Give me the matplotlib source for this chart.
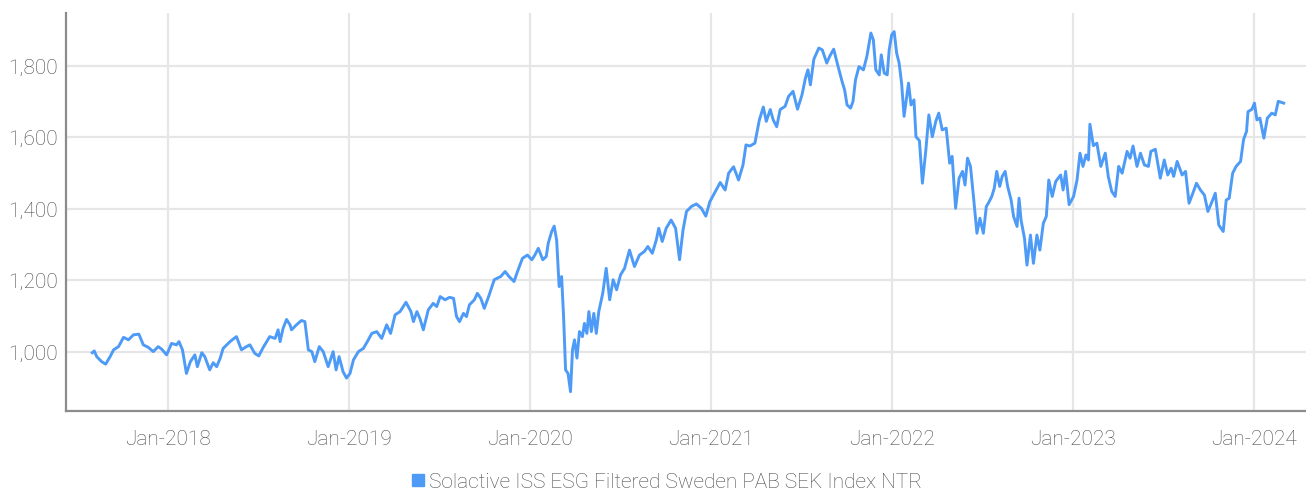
import pandas as pd
import numpy as np
import matplotlib
matplotlib.use("Agg")
import matplotlib.pyplot as plt
import matplotlib.dates as mdates
from matplotlib.ticker import FuncFormatter
from matplotlib.lines import Line2D

plt.rcParams['font.family'] = ['Roboto', 'DejaVu Sans']
plt.rcParams['font.weight'] = 'light'

series_name = "Solactive ISS ESG Filtered Sweden PAB SEK Index NTR"

dates = [
    "2017-08-01", "2017-08-05", "2017-08-10", "2017-08-20", "2017-08-28", "2017-09-06",
    "2017-09-13", "2017-09-23", "2017-10-03", "2017-10-13", "2017-10-23", "2017-11-03",
    "2017-11-12", "2017-11-22", "2017-12-02", "2017-12-12", "2017-12-19", "2017-12-29",
    "2018-01-08", "2018-01-18", "2018-01-23", "2018-01-30", "2018-02-07", "2018-02-15",
    "2018-02-24", "2018-03-01", "2018-03-10", "2018-03-16", "2018-03-26", "2018-04-02",
    "2018-04-09", "2018-04-16", "2018-04-22", "2018-05-06", "2018-05-14", "2018-05-19",
    "2018-05-29", "2018-06-08", "2018-06-15", "2018-06-25", "2018-07-03", "2018-07-12",
    "2018-07-25", "2018-08-05", "2018-08-11", "2018-08-15", "2018-08-21", "2018-08-28",
    "2018-09-04", "2018-09-07", "2018-09-17", "2018-09-27", "2018-10-04", "2018-10-11",
    "2018-10-18", "2018-10-24", "2018-11-02", "2018-11-10", "2018-11-20", "2018-11-30",
    "2018-12-06", "2018-12-12", "2018-12-20", "2018-12-27",
    "2019-01-03", "2019-01-10", "2019-01-20", "2019-01-30", "2019-02-07", "2019-02-16",
    "2019-02-26", "2019-03-08", "2019-03-18", "2019-03-26", "2019-04-04", "2019-04-14",
    "2019-04-26", "2019-05-06", "2019-05-11", "2019-05-18", "2019-05-24", "2019-05-31",
    "2019-06-10", "2019-06-20", "2019-06-27", "2019-07-04", "2019-07-14", "2019-07-23",
    "2019-07-31", "2019-08-06", "2019-08-12", "2019-08-20", "2019-08-26", "2019-09-01",
    "2019-09-11", "2019-09-17", "2019-09-24", "2019-10-01", "2019-10-11", "2019-10-21",
    "2019-10-27", "2019-11-03", "2019-11-12", "2019-11-20", "2019-11-30", "2019-12-07",
    "2019-12-17", "2019-12-27",
    "2020-01-05", "2020-01-11", "2020-01-18", "2020-01-27", "2020-02-03", "2020-02-07",
    "2020-02-14", "2020-02-19", "2020-02-24", "2020-02-29", "2020-03-05", "2020-03-09",
    "2020-03-13", "2020-03-18", "2020-03-23", "2020-03-27", "2020-03-31", "2020-04-05",
    "2020-04-10", "2020-04-16", "2020-04-20", "2020-04-25", "2020-04-29", "2020-05-04",
    "2020-05-09", "2020-05-14", "2020-05-19", "2020-05-27", "2020-06-03", "2020-06-10",
    "2020-06-17", "2020-06-24", "2020-07-02", "2020-07-10", "2020-07-20", "2020-07-30",
    "2020-08-09", "2020-08-19", "2020-08-26", "2020-09-04", "2020-09-12", "2020-09-17",
    "2020-09-24", "2020-10-02", "2020-10-12", "2020-10-21", "2020-10-29", "2020-11-05",
    "2020-11-12", "2020-11-22", "2020-12-02", "2020-12-12", "2020-12-21", "2020-12-29",
    "2021-01-09", "2021-01-19", "2021-01-29", "2021-02-05", "2021-02-15", "2021-02-25",
    "2021-03-06", "2021-03-12", "2021-03-20", "2021-03-30", "2021-04-08", "2021-04-16",
    "2021-04-22", "2021-04-30", "2021-05-06", "2021-05-13", "2021-05-20", "2021-05-30",
    "2021-06-06", "2021-06-15", "2021-06-24", "2021-07-03", "2021-07-10", "2021-07-15",
    "2021-07-20", "2021-07-27", "2021-08-06", "2021-08-13", "2021-08-22", "2021-08-28",
    "2021-09-05", "2021-09-13", "2021-09-22", "2021-09-27", "2021-10-02", "2021-10-09",
    "2021-10-14", "2021-10-19", "2021-10-26", "2021-11-04", "2021-11-11", "2021-11-19",
    "2021-11-24", "2021-11-29", "2021-12-06", "2021-12-10", "2021-12-16", "2021-12-22",
    "2021-12-26", "2021-12-31",
    "2022-01-05", "2022-01-10", "2022-01-15", "2022-01-20", "2022-01-25", "2022-02-03",
    "2022-02-08", "2022-02-14", "2022-02-18", "2022-02-25", "2022-03-03", "2022-03-10",
    "2022-03-16", "2022-03-23", "2022-03-30", "2022-04-05", "2022-04-12", "2022-04-20",
    "2022-04-27", "2022-05-02", "2022-05-09", "2022-05-16", "2022-05-23", "2022-05-28",
    "2022-06-02", "2022-06-08", "2022-06-14", "2022-06-21", "2022-06-27", "2022-07-04",
    "2022-07-10", "2022-07-14", "2022-07-21", "2022-07-26", "2022-07-31", "2022-08-06",
    "2022-08-11", "2022-08-17", "2022-08-22", "2022-08-29", "2022-09-03", "2022-09-10",
    "2022-09-14", "2022-09-18", "2022-09-25", "2022-09-30", "2022-10-07", "2022-10-13",
    "2022-10-20", "2022-10-26", "2022-11-02", "2022-11-08", "2022-11-13", "2022-11-20",
    "2022-11-27", "2022-12-07", "2022-12-12", "2022-12-17", "2022-12-24",
    "2023-01-02", "2023-01-09", "2023-01-15", "2023-01-21", "2023-01-27", "2023-02-01",
    "2023-02-04", "2023-02-11", "2023-02-18", "2023-02-26", "2023-03-07", "2023-03-13",
    "2023-03-20", "2023-03-27", "2023-04-03", "2023-04-10", "2023-04-20", "2023-04-26",
    "2023-05-02", "2023-05-10", "2023-05-17", "2023-05-25", "2023-06-02", "2023-06-07",
    "2023-06-16", "2023-06-26", "2023-07-04", "2023-07-11", "2023-07-18", "2023-07-23",
    "2023-07-30", "2023-08-09", "2023-08-16", "2023-08-23", "2023-09-01", "2023-09-07",
    "2023-09-15", "2023-09-23", "2023-09-30", "2023-10-07", "2023-10-15", "2023-10-22",
    "2023-10-31", "2023-11-06", "2023-11-12", "2023-11-19", "2023-11-26", "2023-12-05",
    "2023-12-11", "2023-12-17", "2023-12-20", "2023-12-28",
    "2024-01-02", "2024-01-07", "2024-01-13", "2024-01-21", "2024-01-28", "2024-02-06",
    "2024-02-13", "2024-02-19", "2024-03-01",
]

index_values = [
    998, 1003, 987, 973, 966, 987,
    1006, 1015, 1041, 1034, 1048, 1050,
    1020, 1013, 1001, 1015, 1008, 992,
    1024, 1020, 1029, 1006, 940, 973,
    992, 959, 998, 987, 950, 970,
    959, 982, 1010, 1029, 1038, 1043,
    1006, 1015, 1020, 996, 989, 1013,
    1043, 1038, 1062, 1029, 1066, 1091,
    1076, 1062, 1076, 1088, 1085, 1006,
    1001, 973, 1015, 1001, 959, 1001,
    950, 987, 945, 927,
    940, 978, 1001, 1010, 1029, 1052,
    1057, 1038, 1076, 1052, 1104, 1113,
    1139, 1113, 1085, 1113, 1094, 1062,
    1118, 1136, 1127, 1155, 1146, 1153,
    1150, 1099, 1085, 1108, 1099, 1132,
    1146, 1164, 1150, 1122, 1160, 1202,
    1206, 1211, 1225, 1211, 1197, 1225,
    1262, 1271,
    1258, 1271, 1290, 1258, 1267, 1304,
    1337, 1352, 1313, 1183, 1211, 1099,
    950, 940, 889, 1006, 1034, 983,
    1057, 1043, 1080, 1052, 1113, 1057,
    1108, 1052, 1113, 1164, 1234, 1146,
    1202, 1174, 1216, 1234, 1285, 1239,
    1271, 1281, 1295, 1276, 1313, 1346,
    1309, 1346, 1369, 1346, 1258, 1341,
    1393, 1407, 1414, 1402, 1380, 1420,
    1448, 1474, 1453, 1500, 1518, 1481,
    1523, 1579, 1576, 1584, 1649, 1685,
    1645, 1678, 1649, 1630, 1678, 1687,
    1715, 1729, 1679, 1719, 1766, 1789,
    1747, 1819, 1850, 1845, 1808, 1827,
    1847, 1803, 1756, 1733, 1691, 1682,
    1701, 1761, 1798, 1789, 1827, 1892,
    1873, 1789, 1775, 1831, 1780, 1775,
    1845, 1887,
    1896, 1836, 1808, 1752, 1659, 1752,
    1691, 1705, 1602, 1591, 1472, 1565,
    1663, 1602, 1645, 1668, 1621, 1626,
    1528, 1547, 1402, 1486, 1505, 1467,
    1542, 1519, 1435, 1332, 1374, 1332,
    1407, 1416, 1435, 1458, 1505, 1463,
    1491, 1505, 1463, 1425, 1379, 1351,
    1430, 1369, 1318, 1243, 1327, 1248,
    1327, 1285, 1360, 1379, 1481, 1435,
    1477, 1495, 1453, 1505, 1412,
    1435, 1481, 1556, 1519, 1551, 1537,
    1637, 1577, 1584, 1519, 1556, 1491,
    1449, 1435, 1519, 1500, 1561, 1542,
    1576, 1519, 1556, 1523, 1519, 1561,
    1567, 1486, 1537, 1495, 1514, 1491,
    1533, 1495, 1505, 1416, 1449, 1472,
    1453, 1439, 1393, 1416, 1444, 1355,
    1337, 1425, 1430, 1500, 1519, 1533,
    1594, 1617, 1672, 1679,
    1696, 1649, 1654, 1598, 1654, 1668,
    1663, 1701, 1696,
]

year_ticks = ["2018-01-01", "2019-01-01", "2020-01-01", "2021-01-01",
              "2022-01-01", "2023-01-01", "2024-01-01"]
value_ticks = [1000, 1200, 1400, 1600, 1800]

line_color = "#4d9bf7"
grid_color = "#e6e6e6"
axis_color = "#8c8c8c"
text_color = "#4a4a4a"

df = pd.DataFrame({"date": pd.to_datetime(dates), "value": index_values})

fig = plt.figure(figsize=(13.06, 4.92), dpi=100)
ax = fig.add_axes([66 / 1306, 1 - 411 / 492, 1 - 66 / 1306, (411 - 13) / 492])

ax.plot(df["date"], df["value"], color=line_color, linewidth=2.1, solid_joinstyle="round")

ax.set_xlim(pd.Timestamp("2017-06-09"), pd.Timestamp("2024-04-15"))
ax.set_ylim(835, 1948)

ax.set_xticks(pd.to_datetime(year_ticks))
ax.xaxis.set_major_formatter(mdates.DateFormatter("%b-%Y"))
ax.set_yticks(value_ticks)
ax.yaxis.set_major_formatter(FuncFormatter(lambda v, p: f"{int(v):,}"))

ax.grid(True, color=grid_color, linewidth=1.6)
ax.set_axisbelow(True)

for side in ["top", "right"]:
    ax.spines[side].set_visible(False)
for side in ["left", "bottom"]:
    ax.spines[side].set_color(axis_color)
    ax.spines[side].set_linewidth(1.6)

ax.tick_params(axis="both", length=0, labelsize=15, colors=text_color)
ax.tick_params(axis="x", pad=14)
ax.tick_params(axis="y", pad=6)

handle = Line2D([], [], marker="s", linestyle="none", markersize=8,
                markerfacecolor=line_color, markeredgecolor=line_color)
fig.legend([handle], [series_name], loc="center", bbox_to_anchor=(666 / 1306, 1 - 482 / 492),
           frameon=False, fontsize=15, labelcolor=text_color, handletextpad=0.1,
           handlelength=0.8, borderpad=0)

fig.savefig("out.png", dpi=100)
